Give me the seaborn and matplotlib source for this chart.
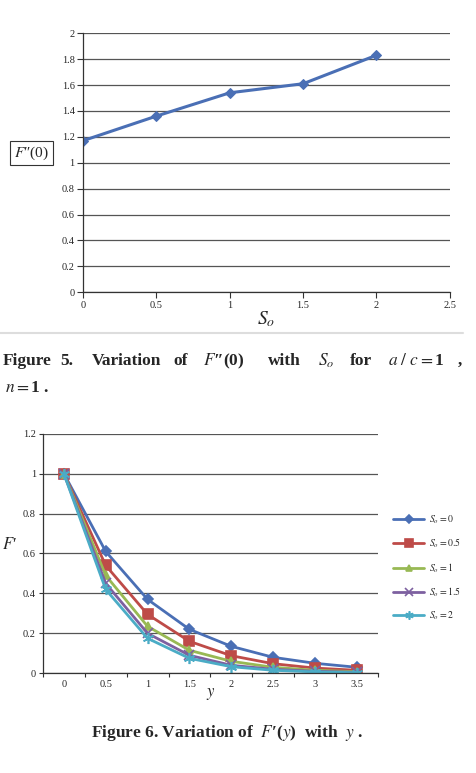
import matplotlib
matplotlib.use("Agg")
import matplotlib.pyplot as plt
import seaborn as sns
import pandas as pd
import numpy as np

# Data
so_values = [0, 0.5, 1, 1.5, 2]
fpp0_values = [1.17, 1.36, 1.54, 1.61, 1.83]

y_values = [0, 0.5, 1, 1.5, 2, 2.5, 3, 3.5]
fp_so_0 = [1.0, 0.61, 0.37, 0.22, 0.135, 0.08, 0.05, 0.03]
fp_so_05 = [1.0, 0.54, 0.295, 0.16, 0.088, 0.048, 0.026, 0.015]
fp_so_1 = [1.0, 0.49, 0.235, 0.115, 0.06, 0.03, 0.015, 0.008]
fp_so_15 = [1.0, 0.45, 0.20, 0.09, 0.04, 0.02, 0.01, 0.005]
fp_so_2 = [1.0, 0.42, 0.175, 0.075, 0.033, 0.015, 0.007, 0.003]
series_labels = ['$S_o = 0$', '$S_o = 0.5$', '$S_o = 1$', '$S_o = 1.5$', '$S_o = 2$']

sns.set_style('white')
plt.rcParams['font.family'] = ['Liberation Serif', 'DejaVu Serif']
plt.rcParams['mathtext.fontset'] = 'stix'

fig = plt.figure(figsize=(4.77, 7.73), dpi=100)

grid_col = '#555555'

# ---------------------------------------------------------------------------
# Figure 5
# ---------------------------------------------------------------------------
ax1 = fig.add_axes([0.174, 0.622, 0.769, 0.335])
df1 = pd.DataFrame({'So': so_values, 'F': fpp0_values})
sns.lineplot(data=df1, x='So', y='F', ax=ax1, color='#4a6fb5', linewidth=2.2,
             marker='D', markersize=5.5, markeredgecolor='#4a6fb5')
ax1.set_xlim(0, 2.5)
ax1.set_ylim(0, 2)
ax1.set_xticks(np.arange(0, 2.51, 0.5))
ax1.set_xticklabels(['0', '0.5', '1', '1.5', '2', '2.5'])
ax1.set_yticks(np.arange(0, 2.01, 0.2))
ax1.set_yticklabels(['0', '0.2', '0.4', '0.6', '0.8', '1', '1.2', '1.4', '1.6', '1.8', '2'])
ax1.yaxis.grid(True, color=grid_col, linewidth=0.9)
ax1.set_axisbelow(True)
for s in ['top', 'right']:
    ax1.spines[s].set_visible(False)
for s in ['left', 'bottom']:
    ax1.spines[s].set_color('#333333')
    ax1.spines[s].set_linewidth(0.9)
ax1.tick_params(axis='both', which='major', direction='out', length=4, width=0.8,
                labelsize=7.5, color='#333333', pad=2, left=True, bottom=True)
ax1.set_xlabel('$S_o$', fontsize=14, labelpad=0)
ax1.set_ylabel('')
fig.text(0.03, 1 - 153 / 773, "$F$\u2033(0)", fontsize=11, va='center', ha='left',
         bbox=dict(boxstyle='square,pad=0.25', facecolor='white', edgecolor='#333333', linewidth=0.8))

# separator line
fig.add_artist(plt.Line2D([0.0, 0.97], [1 - 333 / 773, 1 - 333 / 773], color='#dddddd', linewidth=1.5))

# caption 5 (justified)
cap_y = 1 - 361 / 773
words = [(3, 'Figure'), (60, '5.'), (92, 'Variation'), (173, 'of'), (203, "$\\mathit{F}$\u2033(0)"),
         (268, 'with'), (318, '$S_o$'), (350, 'for'), (388, '$a\\ /\\ c = $1'), (458, ',')]
for xp, w in words:
    fig.text(xp / 477, cap_y, w, fontsize=12.5, fontweight='bold', va='center', ha='left')
fig.text(5 / 477, 1 - 388 / 773, '$n = $1 .', fontsize=12.5, fontweight='bold', va='center', ha='left')

# ---------------------------------------------------------------------------
# Figure 6
# ---------------------------------------------------------------------------
ax2 = fig.add_axes([0.090, 0.129, 0.702, 0.310])
df2 = pd.DataFrame({'y': y_values * 5,
                    'Fp': fp_so_0 + fp_so_05 + fp_so_1 + fp_so_15 + fp_so_2,
                    'series': sum([[lab] * len(y_values) for lab in series_labels], [])})
palette = dict(zip(series_labels, ['#4a6fb5', '#be4b48', '#98b954', '#7d60a0', '#4bacc6']))
markers = dict(zip(series_labels, ['D', 's', '^', 'x', (6, 2, 0)]))
sizes = dict(zip(series_labels, [5, 7, 6, 7, 8]))
for lab in series_labels:
    sub = df2[df2['series'] == lab]
    sns.lineplot(data=sub, x='y', y='Fp', ax=ax2, color=palette[lab], linewidth=2,
                 marker=markers[lab], markersize=sizes[lab], markeredgecolor=palette[lab],
                 markeredgewidth=1.2, label=lab)
ax2.set_xlim(-0.25, 3.75)
ax2.set_ylim(0, 1.2)
ax2.set_xticks(np.arange(-0.25, 3.8, 0.5))
ax2.set_xticklabels([])
ax2.set_xticks(y_values, minor=True)
ax2.set_xticklabels(['0', '0.5', '1', '1.5', '2', '2.5', '3', '3.5'], minor=True)
ax2.tick_params(axis='x', which='minor', length=0, labelsize=7.5, pad=5)
ax2.tick_params(axis='x', which='major', direction='out', length=3, width=0.8, color='#333333', bottom=True)
ax2.set_yticks(np.arange(0, 1.21, 0.2))
ax2.set_yticklabels(['0', '0.2', '0.4', '0.6', '0.8', '1', '1.2'])
ax2.tick_params(axis='y', direction='out', length=3, width=0.8, color='#333333', labelsize=7.5, pad=2, left=True)
ax2.yaxis.grid(True, color=grid_col, linewidth=0.9)
ax2.set_axisbelow(True)
for s in ['top', 'right']:
    ax2.spines[s].set_visible(False)
for s in ['left', 'bottom']:
    ax2.spines[s].set_color('#333333')
    ax2.spines[s].set_linewidth(0.9)
ax2.set_xlabel('$y$', fontsize=12, labelpad=-2)
ax2.set_ylabel("$F$\u2032", fontsize=12, rotation=0, labelpad=10)
ax2.legend(loc='center left', bbox_to_anchor=(1.02, 0.44), frameon=False, fontsize=7,
           handlelength=3.2, labelspacing=1.1, handletextpad=0.5, markerscale=0.75)

fig.text(227 / 477, 1 - 733 / 773, "Figure 6. Variation of  $F$\u2032($y$)  with  $y$ .", fontsize=12.5,
         fontweight='bold', va='center', ha='center')

fig.savefig('out.png', dpi=100)
